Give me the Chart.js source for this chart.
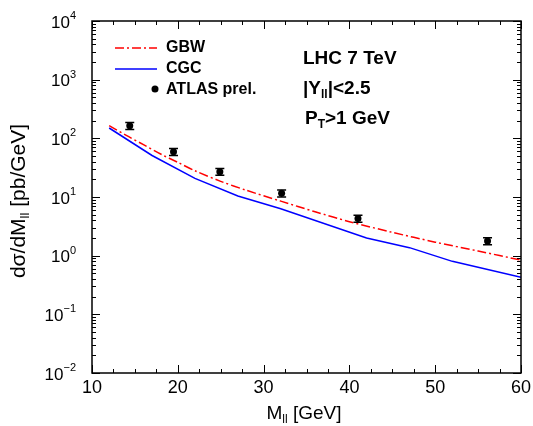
<!DOCTYPE html>
<html>
<head>
<meta charset="utf-8">
<script src="https://cdn.jsdelivr.net/npm/chart.js@4/dist/chart.umd.min.js"></script>
<style>
body { margin: 0; background: #fff; }
#wrap { width: 533px; height: 426px; }
</style>
</head>
<body>
<div id="wrap"><canvas id="massChart" width="533" height="426"></canvas></div>
<script>
// Curves and data
const gbwMass = [12, 14, 16, 18, 20, 22, 25, 28, 32, 36, 40, 45, 50, 55, 60];
const gbwValues = [165, 112, 78, 54, 39, 28, 18.5, 13, 8.5, 5.6, 3.8, 2.5, 1.7, 1.2, 0.84];
const cgcMass = [12, 17, 22, 27, 32, 42, 47, 52, 60];
const cgcValues = [150, 51, 20.8, 10.4, 6.3, 2.0, 1.37, 0.8, 0.43];
const atlasMass = [14.4, 19.5, 24.9, 32.1, 41.0, 56.1];
const atlasValues = [164, 59, 27, 11.6, 4.3, 1.78];
const atlasErrors = [22, 8, 3.6, 1.6, 0.6, 0.25];
const xTicks = [10, 20, 30, 40, 50, 60];
const yExponents = [-2, -1, 0, 1, 2, 3, 4];

const FONT = '"Liberation Sans", Arial, sans-serif';

// draws text made of parts: [text, 0 normal | 1 subscript | 2 superscript]
function drawRich(ctx, parts, x, y, size, bold, align) {
    const w = bold ? 'bold ' : '';
    const fontFor = m => w + (m === 0 ? size : Math.round(size * 0.62)) + 'px ' + FONT;
    let total = 0;
    parts.forEach(p => { ctx.font = fontFor(p[1]); total += ctx.measureText(p[0]).width; });
    let cx = x;
    if (align === 'center') cx = x - total / 2;
    if (align === 'right') cx = x - total;
    ctx.textAlign = 'left';
    ctx.textBaseline = 'middle';
    parts.forEach(p => {
        ctx.font = fontFor(p[1]);
        let dy = 0;
        if (p[1] === 1) dy = size * 0.32;
        if (p[1] === 2) dy = -size * 0.42;
        ctx.fillText(p[0], cx, y + dy);
        cx += ctx.measureText(p[0]).width;
    });
}

const errorBars = {
    id: 'errorBars',
    afterDatasetsDraw(chart) {
        const ctx = chart.ctx, x = chart.scales.x, y = chart.scales.y;
        ctx.save();
        ctx.strokeStyle = '#000';
        ctx.lineWidth = 1.5;
        atlasMass.forEach((m, i) => {
            const px = x.getPixelForValue(m);
            const lo = y.getPixelForValue(atlasValues[i] - atlasErrors[i]);
            const hi = y.getPixelForValue(atlasValues[i] + atlasErrors[i]);
            ctx.beginPath();
            ctx.moveTo(px, lo); ctx.lineTo(px, hi);
            ctx.moveTo(px - 4.5, lo); ctx.lineTo(px + 4.5, lo);
            ctx.moveTo(px - 4.5, hi); ctx.lineTo(px + 4.5, hi);
            ctx.stroke();
        });
        ctx.restore();
    }
};

const frameAndText = {
    id: 'frameAndText',
    afterDraw(chart) {
        const ctx = chart.ctx, x = chart.scales.x, y = chart.scales.y;
        const { left, right, top, bottom } = chart.chartArea;
        ctx.save();
        ctx.strokeStyle = '#000';
        ctx.fillStyle = '#000';
        ctx.lineWidth = 1.5;
        ctx.strokeRect(left, top, right - left, bottom - top);

        // x ticks, inward, bottom and top
        ctx.lineWidth = 1;
        ctx.beginPath();
        for (let v = 10; v <= 60; v += 2.5) {
            const px = Math.round(x.getPixelForValue(v)) + 0.5;
            const len = v % 10 === 0 ? 8 : 4;
            ctx.moveTo(px, bottom); ctx.lineTo(px, bottom - len);
            ctx.moveTo(px, top); ctx.lineTo(px, top + len);
        }
        // y ticks, log minor
        yExponents.forEach(e => {
            for (let m = 1; m <= 9; m++) {
                const v = m * Math.pow(10, e);
                if (v > 1e4) break;
                const py = Math.round(y.getPixelForValue(v)) + 0.5;
                const len = m === 1 ? 8 : 4;
                ctx.moveTo(left, py); ctx.lineTo(left + len, py);
                ctx.moveTo(right, py); ctx.lineTo(right - len, py);
            }
        });
        ctx.stroke();

        // tick labels
        ctx.font = '18px ' + FONT;
        ctx.textAlign = 'center';
        ctx.textBaseline = 'middle';
        xTicks.forEach(v => ctx.fillText(String(v), x.getPixelForValue(v), bottom + 15));
        yExponents.forEach(e => {
            const py = y.getPixelForValue(Math.pow(10, e));
            const exp = e < 0 ? '\u2212' + (-e) : String(e);
            drawRich(ctx, [['10', 0], [exp, 2]], left - 16, py + 2, 17, false, 'right');
        });

        // axis titles
        drawRich(ctx, [['M', 0], ['ll', 1], [' [GeV]', 0]], 304, 414, 19, false, 'center');
        ctx.save();
        ctx.translate(19, 201);
        ctx.rotate(-Math.PI / 2);
        drawRich(ctx, [['d\u03c3/dM', 0], ['ll', 1], [' [pb/GeV]', 0]], 0, 0, 21, false, 'center');
        ctx.restore();

        // legend
        ctx.lineWidth = 1.5;
        ctx.strokeStyle = '#ff0000';
        ctx.setLineDash([9, 3, 2, 3]);
        ctx.beginPath(); ctx.moveTo(115, 48); ctx.lineTo(157, 48); ctx.stroke();
        ctx.setLineDash([]);
        ctx.strokeStyle = '#0000ff';
        ctx.beginPath(); ctx.moveTo(115, 69); ctx.lineTo(157, 69); ctx.stroke();
        ctx.beginPath(); ctx.arc(155, 89, 3.5, 0, Math.PI * 2); ctx.fill();
        drawRich(ctx, [['GBW', 0]], 166, 48, 16, true, 'left');
        drawRich(ctx, [['CGC', 0]], 166, 69, 16, true, 'left');
        drawRich(ctx, [['ATLAS prel.', 0]], 166, 90, 16, true, 'left');

        // annotations
        drawRich(ctx, [['LHC 7 TeV', 0]], 303, 59, 19, true, 'left');
        drawRich(ctx, [['|Y', 0], ['ll', 1], ['|<2.5', 0]], 303, 89, 19, true, 'left');
        drawRich(ctx, [['P', 0], ['T', 1], ['>1 GeV', 0]], 305, 119, 19, true, 'left');
        ctx.restore();
    }
};

const ctx = document.getElementById('massChart').getContext('2d');
const massChart = new Chart(ctx, {
    type: 'line',
    data: {
        datasets: [{
            label: 'GBW',
            data: gbwMass.map((m, i) => ({ x: m, y: gbwValues[i] })),
            borderColor: '#ff0000',
            borderWidth: 1.5,
            borderDash: [9, 3, 2, 3],
            pointRadius: 0,
            tension: 0.3,
            fill: false
        }, {
            label: 'CGC',
            data: cgcMass.map((m, i) => ({ x: m, y: cgcValues[i] })),
            borderColor: '#0000ff',
            borderWidth: 1.5,
            pointRadius: 0,
            tension: 0,
            fill: false
        }, {
            label: 'ATLAS prel.',
            data: atlasMass.map((m, i) => ({ x: m, y: atlasValues[i] })),
            showLine: false,
            pointRadius: 3.5,
            pointBackgroundColor: '#000',
            pointBorderColor: '#000',
            pointBorderWidth: 0
        }]
    },
    options: {
        responsive: false,
        animation: false,
        events: [],
        layout: { padding: { left: 92, right: 12, top: 21, bottom: 53 } },
        plugins: {
            legend: { display: false },
            tooltip: { enabled: false }
        },
        scales: {
            x: { type: 'linear', min: 10, max: 60, display: false },
            y: { type: 'logarithmic', min: 0.01, max: 10000, display: false }
        }
    },
    plugins: [errorBars, frameAndText]
});
</script>
</body>
</html>
